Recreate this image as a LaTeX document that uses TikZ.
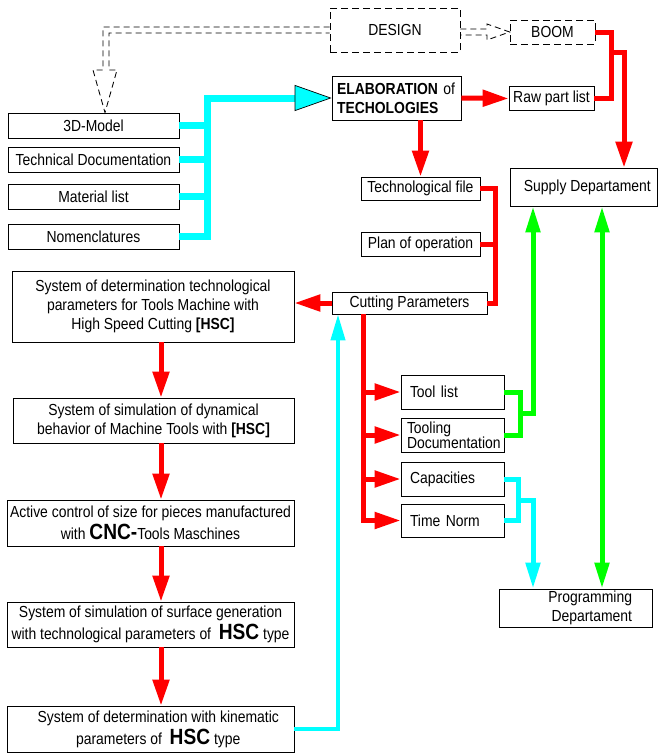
\documentclass[tikz,border=0pt]{standalone}
\usepackage{fontspec}
\setmainfont{Liberation Sans}[FakeStretch=0.87]
\usepackage{tikz}
\usetikzlibrary{arrows.meta}
\definecolor{aqua}{RGB}{0,255,255}
\definecolor{lime}{RGB}{0,255,0}
\definecolor{hot}{RGB}{255,0,0}
\newcommand{\hscbig}{\fontsize{22}{24}\selectfont\bfseries}

\begin{document}
\begin{tikzpicture}[line join=miter, x=1pt, y=-1pt, >={Triangle[length=26pt,width=16pt]},
                    box/.style={draw, line width=0.7pt, inner sep=2pt, align=center, font=\fontsize{16}{19}\selectfont},
                    dbox/.style={box, dash pattern=on 7pt off 4pt},
                    lbox/.style={box, align=left, inner xsep=9pt, text width=85pt},
                    redline/.style={draw=hot, line width=5pt},
                    greenline/.style={draw=lime, line width=5pt},
                    cyanline/.style={draw=aqua, line width=5pt},
                    cyanbus/.style={draw=aqua, line width=7pt},
                    dline/.style={draw=black, line width=0.85pt, dash pattern=on 6pt off 4pt}]

                        \useasboundingbox (0,0) rectangle (660,753);

                        \node[dbox, minimum width=130pt, minimum height=44pt] (design) at (395,30) {DESIGN};
                        \node[dbox, minimum width=85pt, minimum height=24pt] (boom) at (552.5,32) {BOOM};
                        \node[box, align=left, inner xsep=5pt, text width=119pt, minimum height=44pt] (elab) at (396.5,98) {\textbf{ELABORATION} of\\\textbf{TECHOLOGIES}};
                        \node[box, minimum width=85pt, minimum height=24pt] (raw) at (551.5,98.5) {Raw part list};
                        \node[box, minimum width=147pt, minimum height=38pt] (supply) at (583.5,187) {\ \ Supply Departament};

                        \node[box, minimum width=171pt, minimum height=25pt] (model) at (93.5,125.5) {3D-Model};
                        \node[box, minimum width=171pt, minimum height=25pt] (techdoc) at (93.5,159.5) {Technical Documentation};
                        \node[box, minimum width=171pt, minimum height=25pt] (material) at (93.5,196.5) {Material list};
                        \node[box, minimum width=171pt, minimum height=25pt] (nomen) at (93.5,236.5) {Nomenclatures};

                        \node[box, minimum width=119pt, minimum height=23pt] (techfile) at (420.5,188.5) {Technological file};
                        \node[box, minimum width=119pt, minimum height=24pt] (plan) at (420.5,244) {Plan of operation};
                        \node[box, minimum width=155pt, minimum height=22pt] (cutting) at (409.5,303) {Cutting Parameters};

                        \node[box, inner xsep=1pt, minimum width=282pt, minimum height=71pt] (sys1) at (153,306.5) {System of determination technological\\parameters for Tools Machine with\\High Speed Cutting \textbf{[HSC]}};
                        \node[box, inner xsep=1pt, minimum width=281pt, minimum height=45pt] (sys2) at (153.5,420.5) {System of simulation of dynamical\\behavior of Machine Tools with \textbf{[HSC]}};
                        \node[box, inner xsep=1pt, minimum width=287pt, minimum height=46pt] (sys3) at (150.5,523) {Active control of size for pieces manufactured\\[3pt]with {\hscbig CNC-}Tools Maschines};
                        \node[box, inner xsep=1pt, minimum width=287pt, minimum height=45pt] (sys4) at (150.5,624.5) {System of simulation of surface generation\\[3pt]with technological parameters of \ {\hscbig HSC} type};
                        \node[box, inner xsep=1pt, minimum width=287pt, minimum height=46pt] (sys5) at (150.5,729) {\ \ \ \ System of determination with kinematic\\[3pt]\ \ \ \ parameters of \ {\hscbig HSC} type};

                        \node[lbox, minimum height=34pt] (toollist) at (452.5,392) {Tool list};
                        \node[lbox, inner xsep=6pt, text width=91pt, minimum height=34pt, font=\fontsize{16}{15}\selectfont] (tooldoc) at (452.5,435) {Tooling\\Documentation};
                        \node[lbox, minimum height=34pt] (capac) at (452.5,479) {Capacities};
                        \node[lbox, minimum height=33pt] (timenorm) at (452.5,520.5) {Time Norm};

                        \node[box, align=right, inner xsep=20pt, text width=113pt, minimum height=38pt] (prog) at (575.5,608) {Programming\\Departament};

                        \coordinate (bus) at (207,0);
                        \coordinate (col) at (161,0);
                        \coordinate (trunk) at (363,0);

                        \draw [dline] (design.east |- 0,29) -- (487,29) -- (487,24) -- (boom.west) -- (487,40) -- (487,35) -- (design.east |- 0,35);
                        \draw [dline] (design.west |- 0,27) -| (103,70) -- (93,70) -- (model.north -| 105,0) -- (117,70) -- (109,70) -- (109,33) -- (design.west |- 0,33);

                        \draw [cyanbus] (model.east) -- (model.east -| bus);
                        \draw [cyanbus] (techdoc.east) -- (techdoc.east -| bus);
                        \draw [cyanbus] (material.east) -- (material.east -| bus);
                        \draw [cyanbus, -{Triangle[length=37pt,width=26pt,line width=0.7pt,color=black,fill=aqua]}] (nomen.east) -| (bus |- elab.west) -- (elab.west);

                        \draw [redline, ->] (elab.east) -- (raw.west);
                        \draw [redline] (boom.east) -| (611,70) |- (raw.east);
                        \draw [redline, ->] (611,52) -| (supply.north -| 624,0);
                        \draw [redline, ->] (elab.south -| techfile.north) -- (techfile.north);
                        \draw [redline] (techfile.east) -| (495,250) |- (cutting.east);
                        \draw [redline] (plan.east) -- (plan.east -| 495,0);
                        \draw [redline, ->] (cutting.west) -- (cutting.west -| sys1.east);

                        \draw [redline, ->] (sys1.south -| col) -- (sys2.north -| col);
                        \draw [redline, ->] (sys2.south -| col) -- (sys3.north -| col);
                        \draw [redline, ->] (sys3.south -| col) -- (sys4.north -| col);
                        \draw [redline, ->] (sys4.south -| col) -- (sys5.north -| col);

                        \draw [redline, ->] (cutting.south -| trunk) |- (timenorm.west);
                        \draw [redline, ->] (toollist.west -| trunk) -- (toollist.west);
                        \draw [redline, ->] (tooldoc.west -| trunk) -- (tooldoc.west);
                        \draw [redline, ->] (capac.west -| trunk) -- (capac.west);

                        \draw [greenline] (toollist.east) -| (520,413) |- (tooldoc.east);
                        \draw [greenline, -{Triangle[length=26pt,width=14pt]}] (520,413) -| (supply.south -| 533,0);
                        \draw [greenline, {Triangle[length=26pt,width=14pt]}-{Triangle[length=26pt,width=14pt]}] (supply.south -| 602,0) -- (prog.north -| 602,0);

                        \draw [cyanline] (capac.east) -| (518,500) |- (timenorm.east);
                        \draw [cyanline, -{Triangle[length=26pt,width=14pt]}] (518,500) -| (prog.north -| 533,0);
                        \draw [cyanline, line width=4pt, -{Triangle[length=26pt,width=14pt]}] (sys5.east) -| (cutting.south -| 338,0);
                    \end{tikzpicture}
\end{document}
